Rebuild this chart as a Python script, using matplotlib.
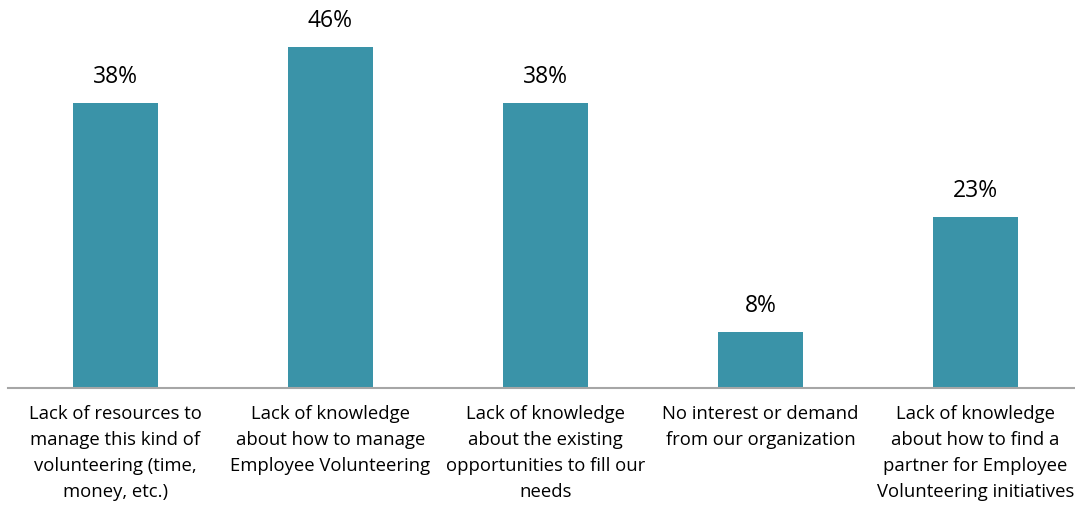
import matplotlib
matplotlib.use("Agg")
import matplotlib.pyplot as plt

categories = [
    "Lack of resources to\nmanage this kind of\nvolunteering (time,\nmoney, etc.)",
    "Lack of knowledge\nabout how to manage\nEmployee Volunteering",
    "Lack of knowledge\nabout the existing\nopportunities to fill our\nneeds",
    "No interest or demand\nfrom our organization",
    "Lack of knowledge\nabout how to find a\npartner for Employee\nVolunteering initiatives",
]
values = [38.4, 46.0, 38.4, 7.6, 23.0]
value_labels = ["38%", "46%", "38%", "8%", "23%"]

W, H = 1075, 509
fig = plt.figure(figsize=(W / 100, H / 100), dpi=100)
base_px = 388
ax = fig.add_axes([8 / W, (H - base_px) / H, (W - 8) / W, base_px / H])

color = "#3A93A8"
x = list(range(len(values)))
ax.bar(x, values, width=85 / 215, color=color)
ax.set_xlim(-0.5, -0.5 + (W - 8) / 215)
ax.set_ylim(0, base_px / 7.42)

for s in ["top", "right", "left"]:
    ax.spines[s].set_visible(False)
ax.spines["bottom"].set_color("#A6A6A6")
ax.spines["bottom"].set_linewidth(1.5)
ax.set_yticks([])
ax.set_xticks([])

font = "Open Sans"
for xi, v, lab in zip(x, values, value_labels):
    ax.annotate(lab, (xi, v), xytext=(0, 10), textcoords="offset points",
                ha="center", va="bottom", fontsize=16.5, family=font, color="#000000")

for xi, c in zip(x, categories):
    ax.annotate(c, (xi, 0), xytext=(0, -12), textcoords="offset points",
                ha="center", va="top", fontsize=13.3, family=font, color="#000000",
                linespacing=1.58, annotation_clip=False)

fig.savefig("out.png", dpi=100)
